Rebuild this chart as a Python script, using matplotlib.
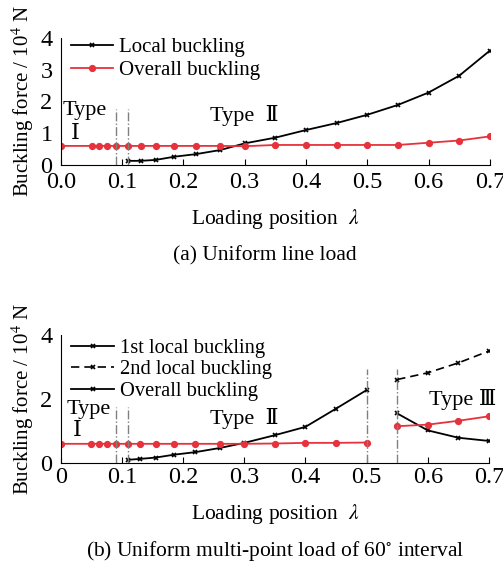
import numpy as np
import matplotlib.pyplot as plt
from matplotlib.lines import Line2D

plt.rcParams['font.family'] = ['Liberation Serif', 'DejaVu Serif', 'Noto Sans CJK SC']
plt.rcParams['mathtext.fontset'] = 'stix'
plt.rcParams['font.size'] = 15

RED = '#e6323c'

# (a) uniform line load
lam_loc_a = [0.11, 0.13, 0.155, 0.185, 0.22, 0.26, 0.30, 0.35, 0.40, 0.45, 0.50, 0.55, 0.60, 0.65, 0.70]
f_loc_a = [0.13, 0.13, 0.16, 0.26, 0.34, 0.47, 0.68, 0.86, 1.10, 1.32, 1.58, 1.89, 2.28, 2.81, 3.60]
lam_ov_a = [0.0, 0.05, 0.0625, 0.075, 0.09, 0.11, 0.13, 0.155, 0.185, 0.22, 0.26, 0.30, 0.35, 0.40,
            0.45, 0.50, 0.55, 0.60, 0.65, 0.70]
f_ov_a = [0.60, 0.60, 0.60, 0.60, 0.60, 0.60, 0.60, 0.60, 0.60, 0.60, 0.60, 0.59, 0.63, 0.63,
          0.63, 0.63, 0.63, 0.70, 0.77, 0.90]

# (b) uniform multi-point load, 60 deg interval
lam_loc1_b = [0.11, 0.13, 0.155, 0.185, 0.22, 0.26, 0.30, 0.35, 0.40, 0.45, 0.50]
f_loc1_b = [0.10, 0.13, 0.17, 0.26, 0.34, 0.47, 0.63, 0.87, 1.13, 1.70, 2.28]
lam_loc1_b3 = [0.55, 0.60, 0.65, 0.70]
f_loc1_b3 = [1.55, 1.02, 0.79, 0.69]
lam_loc2_b = [0.55, 0.60, 0.65, 0.70]
f_loc2_b = [2.61, 2.82, 3.13, 3.50]
lam_ov_b = [0.0, 0.05, 0.0625, 0.075, 0.09, 0.11, 0.13, 0.155, 0.185, 0.22, 0.26, 0.30, 0.35, 0.40,
            0.45, 0.50]
f_ov_b = [0.60, 0.60, 0.60, 0.60, 0.60, 0.60, 0.60, 0.60, 0.60, 0.60, 0.60, 0.60, 0.61, 0.63,
          0.63, 0.64]
lam_ov_b3 = [0.55, 0.60, 0.65, 0.70]
f_ov_b3 = [1.15, 1.20, 1.32, 1.46]

fig = plt.figure(figsize=(5.03, 5.65), dpi=100)
ax1 = fig.add_axes([0.121, 0.708, 0.853, 0.225])
ax2 = fig.add_axes([0.121, 0.1805, 0.851, 0.2265])

xk = dict(color='black', lw=1.3, marker='x', ms=2.8, mew=1.2)
dk = dict(color='black', lw=1.2, ls=(0, (5, 3)), marker='x', ms=2.8, mew=1.2)
rk = dict(color=RED, lw=1.3, marker='o', ms=4.2)
vk = dict(color='gray', lw=1.0, ls='-.')


def style(ax, yticks, xlabels, pad):
    ax.set_xlim(0, 0.7)
    ax.set_ylim(0, 4)
    ax.spines['top'].set_visible(False)
    ax.spines['right'].set_visible(False)
    ax.set_xticks(np.arange(0, 0.71, 0.1))
    ax.set_xticklabels(xlabels)
    ax.set_yticks(yticks)
    ax.tick_params(direction='in', length=4, labelsize=17.5, pad=pad)
    ax.tick_params(axis='y', length=0, pad=6)
    ax.set_xlabel(r'Loading position  $\lambda$', fontsize=15.5, labelpad=10)
    ax.set_ylabel(r'Buckling force / 10$^4$ N', fontsize=15, labelpad=3)


# panel (a)
ax1.plot(lam_loc_a, f_loc_a, **xk, label='Local buckling')
ax1.plot(lam_ov_a, f_ov_a, **rk, label='Overall buckling')
ax1.plot([0.09, 0.09], [0, 1.75], **vk)
ax1.plot([0.11, 0.11], [0, 1.75], **vk)
ax1.text(0.003, 1.72, 'Type', fontsize=16, va='center')
ax1.text(0.023, 0.95, 'Ⅰ', fontsize=16, va='center', ha='center')
ax1.text(0.30, 1.55, 'Type  Ⅱ', fontsize=16, va='center', ha='center')
ax1.legend(loc='upper left', bbox_to_anchor=(-0.005, 1.1), frameon=False, fontsize=15,
           handlelength=2.0, handletextpad=0.3, labelspacing=0.15, borderaxespad=0.2)
style(ax1, [0, 1, 2, 3, 4], ['0.0', '0.1', '0.2', '0.3', '0.4', '0.5', '0.6', '0.7'], 5)
fig.text(0.527, 0.548, '(a) Uniform line load', fontsize=15.5, ha='center', va='center')

# panel (b)
ax2.plot(lam_loc1_b, f_loc1_b, **xk)
ax2.plot(lam_loc1_b3, f_loc1_b3, **xk)
ax2.plot(lam_loc2_b, f_loc2_b, **dk)
ax2.plot(lam_ov_b, f_ov_b, **rk)
ax2.plot(lam_ov_b3, f_ov_b3, **rk)
for xv, top in [(0.09, 1.75), (0.11, 1.75), (0.50, 2.95), (0.55, 2.95)]:
    ax2.plot([xv, xv], [0, top], **vk)
ax2.text(0.01, 1.66, 'Type', fontsize=16, va='center')
ax2.text(0.027, 0.97, 'Ⅰ', fontsize=16, va='center', ha='center')
ax2.text(0.30, 1.40, 'Type  Ⅱ', fontsize=16, va='center', ha='center')
ax2.text(0.657, 2.0, 'Type Ⅲ', fontsize=16, va='center', ha='center')
h1 = Line2D([], [], **xk)
h2 = Line2D([], [], **dk)
ax2.legend([h1, h2, h1], ['1st local buckling', '2nd local buckling', 'Overall buckling'],
           loc='upper left', bbox_to_anchor=(-0.005, 1.07), frameon=False, fontsize=14.8,
           handlelength=2.1, handletextpad=0.3, labelspacing=0.1, borderaxespad=0.2)
style(ax2, [0, 2, 4], ['0', '0.1', '0.2', '0.3', '0.4', '0.5', '0.6', '0.7'], 3)
fig.text(0.547, 0.025, r'(b) Uniform multi-point load of 60$^{\circ}$ interval', fontsize=15.5,
         ha='center', va='center')

fig.savefig('out.png', dpi=100, facecolor='white')
